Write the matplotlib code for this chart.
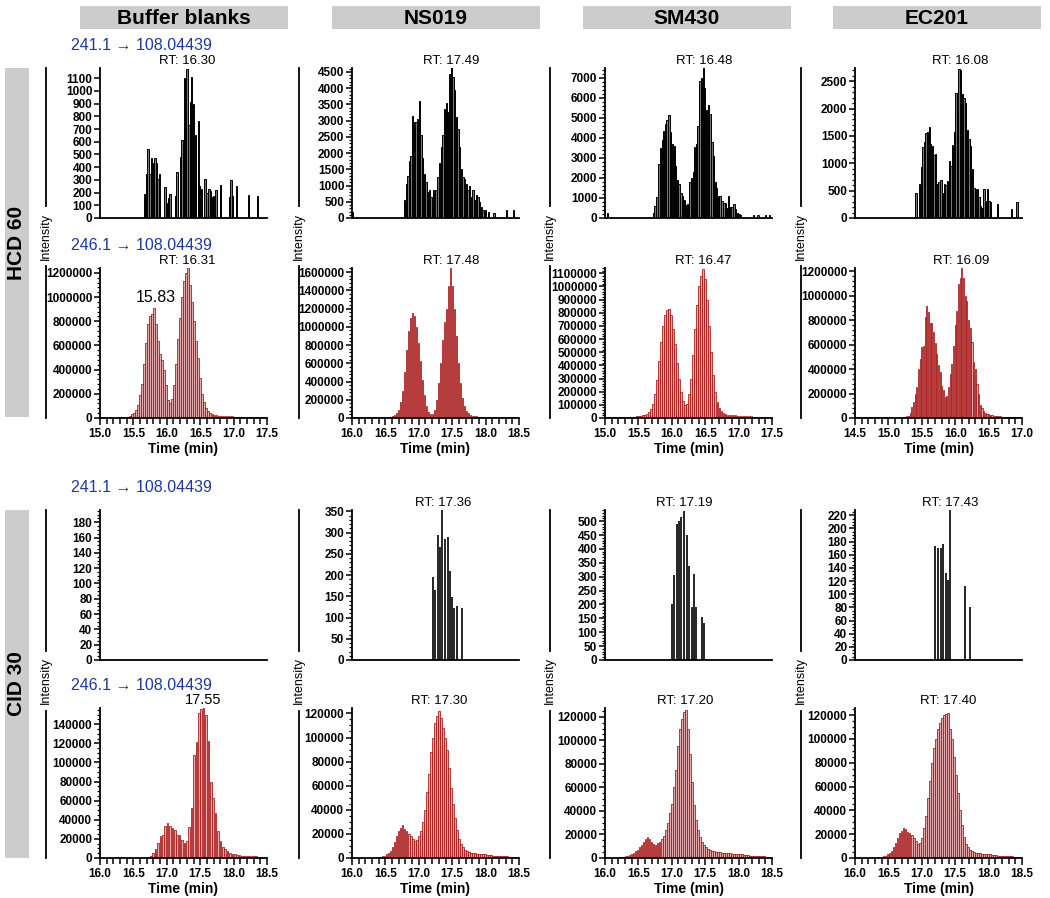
import matplotlib
matplotlib.use("Agg")
import matplotlib.pyplot as plt
import numpy as np
from matplotlib.ticker import MultipleLocator, AutoMinorLocator, FormatStrFormatter, NullLocator
from matplotlib.patches import Rectangle
from matplotlib.lines import Line2D

plt.rcParams['font.family'] = ['Liberation Sans Narrow', 'Liberation Sans', 'DejaVu Sans']

columns = ["Buffer blanks", "NS019", "SM430", "EC201"]
rows = ["HCD 60", "CID 30"]
trans_241 = "241.1 \u2192 108.04439"
trans_246 = "246.1 \u2192 108.04439"

# x ranges (min)
hcd_xlim = [(15.0, 17.5), (16.0, 18.5), (15.0, 17.5), (14.5, 17.0)]
cid_xlim = [(16.0, 18.5), (16.0, 18.5), (16.0, 18.5), (16.0, 18.5)]

# ---- HCD 60, 241.1 -> 108.04439 (black bars): times, intensities
buf_hcd241_t = [15.665, 15.70, 15.72, 15.75, 15.775, 15.805, 15.825, 15.845, 15.87, 15.895,
                15.975, 15.995, 16.025, 16.05, 16.13, 16.155, 16.21, 16.23, 16.26, 16.28,
                16.30, 16.33, 16.35, 16.37, 16.40, 16.43, 16.47, 16.49, 16.52, 16.57,
                16.60, 16.63, 16.65, 16.68, 16.70, 16.735, 16.80, 16.94, 16.96, 16.985,
                17.04, 17.225, 17.36]
buf_hcd241_v = [190, 350, 540, 350, 470, 430, 470, 430, 310, 350,
                240, 120, 160, 185, 170, 360, 480, 610, 1100, 870,
                1170, 730, 910, 1110, 900, 650, 760, 250, 225, 310,
                200, 230, 210, 165, 170, 220, 260, 165, 300, 175,
                250, 180, 175]

ns_hcd241_t = [16.01, 16.79, 16.815, 16.84, 16.865, 16.885, 16.91, 16.935, 16.96, 16.985,
               17.01, 17.035, 17.06, 17.085, 17.11, 17.135, 17.16, 17.185, 17.21,
               17.225, 17.255, 17.285, 17.31, 17.335, 17.36, 17.385, 17.41, 17.43, 17.46,
               17.485, 17.51, 17.535, 17.56, 17.585, 17.61, 17.635, 17.66, 17.685, 17.71,
               17.735, 17.76, 17.785, 17.81, 17.835, 17.86, 17.885, 17.91, 17.935, 17.96,
               17.995, 18.045, 18.125, 18.315, 18.42]
ns_hcd241_v = [200, 550, 1050, 1300, 1750, 1900, 3150, 2950, 2950, 3050,
               3600, 2550, 1850, 1350, 1100, 800, 850, 650, 350,
               850, 850, 1250, 1700, 2200, 2550, 3350, 3550, 3250, 4450,
               4650, 4350, 3950, 3100, 2750, 2200, 1500, 1250, 1200, 1050,
               850, 1000, 650, 850, 550, 700, 650, 500, 350, 250,
               250, 200, 150, 250, 250]

sm_hcd241_t = [15.04, 15.73, 15.75, 15.78, 15.81, 15.83, 15.86, 15.88, 15.91, 15.93,
               15.96, 15.98, 16.01, 16.04, 16.06, 16.09, 16.11, 16.14, 16.16, 16.19,
               16.21, 16.24, 16.27, 16.29, 16.32, 16.34, 16.37, 16.39, 16.42, 16.44,
               16.47, 16.49, 16.52, 16.55, 16.57, 16.60, 16.62, 16.65, 16.67, 16.70,
               16.72, 16.75, 16.78, 16.80, 16.83, 16.85, 16.88, 16.90, 16.93, 16.95,
               16.98, 17.01, 17.03, 17.22, 17.29, 17.40, 17.46]
sm_hcd241_v = [250, 250, 600, 1050, 2700, 3500, 3900, 4350, 4700, 4900,
               5150, 4300, 3700, 3600, 2600, 1900, 1700, 1250, 1100, 900,
               650, 700, 1800, 2000, 2300, 3550, 3700, 4600, 6850, 7000,
               7500, 6500, 5400, 5650, 5200, 3800, 3100, 1800, 1500, 1100,
               1100, 850, 750, 750, 500, 1100, 550, 550, 700, 450,
               250, 200, 150, 150, 150, 150, 150]

ec_hcd241_t = [15.415, 15.465, 15.495, 15.52, 15.54, 15.565, 15.59, 15.615, 15.635, 15.66,
               15.685, 15.71, 15.735, 15.76, 15.785, 15.81, 15.835, 15.86, 15.885, 15.91,
               15.935, 15.96, 15.985, 16.01, 16.035, 16.055, 16.08, 16.105, 16.13, 16.155,
               16.18, 16.205, 16.23, 16.255, 16.28, 16.305, 16.33, 16.355, 16.38, 16.405,
               16.43, 16.455, 16.48, 16.505, 16.53, 16.63, 16.84, 16.925]
ec_hcd241_v = [450, 620, 930, 1300, 1380, 1560, 1580, 1660, 1350, 1320,
               1150, 1170, 620, 650, 690, 450, 630, 600, 680, 1050,
               950, 1330, 1580, 2280, 1930, 2720, 2700, 2270, 2200, 2100,
               1600, 1450, 1320, 900, 550, 530, 530, 380, 220, 190,
               530, 310, 530, 310, 300, 250, 160, 290]

# ---- HCD 60, 246.1 -> 108.04439 (red bars): first scan time, scan spacing, intensities (x1000)
buf_hcd246_t0, buf_hcd246_dt = 15.03, 0.03
buf_hcd246_v = [10, 8, 0, 0, 0, 0, 0, 0, 5, 6, 5, 6, 8, 10, 20, 30, 45, 70, 110, 190,
                280, 450, 620, 780, 840, 860, 910, 780, 640, 530, 480, 400, 270, 150, 120, 160,
                270, 450, 650, 830, 1000, 1130, 1200, 1240, 1100, 960, 800, 640, 500, 330,
                200, 130, 80, 55, 40, 30, 25, 22, 20, 18, 16, 15, 14, 14, 13, 13, 12, 12, 12,
                11, 11, 10, 10, 10, 9, 9, 9, 8, 8, 8, 8, 8]

ns_hcd246_t0, ns_hcd246_dt = 16.035, 0.03
ns_hcd246_v = [10, 8, 10, 8, 10, 8, 6, 8, 10, 8, 8, 6, 8, 10, 8, 8, 10, 12, 15, 20,
               30, 50, 90, 170, 300, 500, 750, 950, 1100, 1150,
               1120, 1000, 820, 620, 420, 250, 130, 70, 40, 45,
               90, 200, 380, 600, 850, 1050, 1200, 1450, 1640, 1450,
               1200, 900, 600, 380, 220, 130, 80, 50, 35, 25,
               20, 18, 16, 15, 14, 13, 12, 12, 11, 10,
               10, 10, 9, 9, 8, 8, 8, 7, 7, 7, 6, 6, 6]

sm_hcd246_t0, sm_hcd246_dt = 15.03, 0.03
sm_hcd246_v = [8, 6, 8, 5, 6, 8, 6, 5, 6, 8, 6, 8, 10, 8, 10, 12, 15, 18, 20, 25, 32,
               45, 70, 110, 180, 290, 430, 580, 700, 780, 820,
               830, 780, 680, 560, 420, 300, 200, 130, 100, 110,
               180, 300, 480, 680, 860, 1000, 1080, 1130, 1060, 900,
               700, 500, 330, 200, 120, 75, 50, 38,
               30, 26, 24, 22, 20, 19, 18, 17, 16, 15, 14, 13, 12, 12, 11, 10, 10, 9, 9, 8, 8, 7, 7]

ec_hcd246_t0, ec_hcd246_dt = 14.5, 0.025
ec_hcd246_v = [10, 8, 10, 8, 10, 8, 10, 8, 10, 8, 10, 8, 10, 8, 10, 8, 10, 8, 10, 8,
               0, 0, 0, 0, 0, 0, 0, 0,
               10, 0, 5, 15, 20, 40, 90, 130, 200, 250, 400, 480, 580, 590, 830, 920, 870, 780,
               780, 700, 610, 520, 430, 380, 260, 230, 170, 180, 250, 360, 440, 590, 760, 880,
               1100, 1150, 1230, 1150, 1000, 960, 800, 740, 620, 460, 400, 280, 200, 110, 80, 60,
               45, 35, 30, 25, 22, 20, 18, 16, 15, 14, 12, 11, 10, 10, 9, 8, 8, 8, 7, 7, 7, 6]

# ---- CID 30, 241.1 -> 108.04439 (sticks)
buf_cid241_t = []
buf_cid241_v = []
ns_cid241_t = [17.21, 17.24, 17.29, 17.31, 17.35, 17.39, 17.43, 17.46, 17.50, 17.53, 17.57, 17.65]
ns_cid241_v = [195, 165, 295, 265, 355, 285, 290, 210, 148, 122, 128, 123]
sm_cid241_t = [17.005, 17.035, 17.075, 17.11, 17.145, 17.185, 17.225, 17.26, 17.30, 17.33,
               17.365, 17.445, 17.48]
sm_cid241_v = [200, 305, 490, 500, 515, 535, 450, 340, 190, 310, 190, 155, 135]
ec_cid241_t = [17.20, 17.245, 17.28, 17.315, 17.355, 17.385, 17.425, 17.65, 17.725]
ec_cid241_v = [173, 170, 170, 177, 132, 122, 228, 112, 80]

# ---- CID 30, 246.1 -> 108.04439 (red bars, x1000)
buf_cid246_t0, buf_cid246_dt = 16.725, 0.0359
buf_cid246_v = [1, 2, 5, 9, 16, 23, 24, 33, 37, 34, 31, 29, 24, 24, 19, 16, 18, 32, 52, 108,
                121, 152, 156, 157, 150, 122, 80, 63, 47, 28, 18, 12, 9, 7, 5, 4, 4, 3, 3, 2.5,
                2.5, 2, 2, 2, 2, 2, 1.5, 1.5, 1.5, 1.5]

ns_cid246_t0, ns_cid246_dt = 16.37, 0.03
ns_cid246_v = [1, 1, 1, 2, 2, 3, 4, 6, 9, 13, 18, 22, 25, 27, 24, 22, 20, 18, 16, 14,
               15, 18, 22, 30, 40, 55, 70, 88, 100, 112, 118, 122, 116, 108, 100, 90, 75, 58, 45, 33,
               23, 16, 12, 9, 7, 6, 5, 4.5, 4, 4, 3.5, 3.5, 3, 3, 3, 2.5, 2.5, 2.5, 2, 2,
               2, 2, 1.5, 1.5, 1.5, 1.5, 1, 1, 1, 1, 1]

sm_cid246_t0, sm_cid246_dt = 16.25, 0.03
sm_cid246_v = [1, 1, 1.5, 2, 2.5, 3, 4, 6, 7, 9, 11, 14, 16, 18, 16, 14, 12, 11, 13, 14,
               16, 19, 24, 30, 38, 46, 60, 75, 95, 110, 118, 124, 126, 110, 88, 65, 45, 32, 24, 18,
               14, 11, 9, 8, 7, 6, 6, 5.5, 5, 5, 4.5, 4.5, 4, 4, 4, 3.5, 3.5, 3.5, 3, 3,
               3, 2.5, 2.5, 2.5, 2, 2, 2, 2, 1.5, 1.5, 1.5, 1.5, 1, 1, 1]

ec_cid246_t0, ec_cid246_dt = 16.37, 0.03
ec_cid246_v = [1, 1, 2, 2, 3, 4, 6, 9, 13, 17, 21, 23, 25, 24, 22, 21, 19, 17, 14, 12,
               13, 17, 25, 35, 50, 65, 80, 92, 100, 108, 113, 118, 120, 121, 122, 108, 100, 85, 70, 55,
               40, 28, 18, 12, 9, 7, 6, 5, 4.5, 4, 4, 3.5, 3.5, 3, 3, 3, 2.5, 2.5, 2.5, 2,
               2, 2, 2, 1.5, 1.5, 1.5, 1.5, 1, 1, 1, 1]

# RT labels (None = no label)
hcd241_rt = [16.30, 17.49, 16.48, 16.08]
hcd246_rt = [16.31, 17.48, 16.47, 16.09]
cid241_rt = [None, 17.36, 17.19, 17.43]
cid246_rt = [None, 17.30, 17.20, 17.40]
extra_peak = (15.83, 910000)     # buffer blank HCD first peak
buf_cid_peak = 17.55             # buffer blank CID peak (no "RT:")

# axis limits / ticks
hcd241_ymax = [1180, 4620, 7500, 2740]
hcd241_step = [100, 500, 1000, 500]
hcd246_ymax = [1240000, 1645000, 1140000, 1228000]
hcd246_step = [200000, 200000, 100000, 200000]
cid241_ymax = [196, 353, 540, 228]
cid241_step = [20, 50, 50, 20]
cid246_ymax = [157000, 124500, 127500, 126000]
cid246_step = [20000, 20000, 20000, 20000]

hcd241 = [(buf_hcd241_t, buf_hcd241_v), (ns_hcd241_t, ns_hcd241_v),
          (sm_hcd241_t, sm_hcd241_v), (ec_hcd241_t, ec_hcd241_v)]
hcd246 = [(buf_hcd246_t0, buf_hcd246_dt, buf_hcd246_v), (ns_hcd246_t0, ns_hcd246_dt, ns_hcd246_v),
          (sm_hcd246_t0, sm_hcd246_dt, sm_hcd246_v), (ec_hcd246_t0, ec_hcd246_dt, ec_hcd246_v)]
cid241 = [(buf_cid241_t, buf_cid241_v), (ns_cid241_t, ns_cid241_v),
          (sm_cid241_t, sm_cid241_v), (ec_cid241_t, ec_cid241_v)]
cid246 = [(buf_cid246_t0, buf_cid246_dt, buf_cid246_v), (ns_cid246_t0, ns_cid246_dt, ns_cid246_v),
          (sm_cid246_t0, sm_cid246_dt, sm_cid246_v), (ec_cid246_t0, ec_cid246_dt, ec_cid246_v)]

W, H = 1050, 898
fig = plt.figure(figsize=(W / 100, H / 100), dpi=100)

BLUE = '#1b3a9e'
RED_EDGE = '#a50f0f'
RED_FILL = '#e6aaaa'

col_left = [100, 352, 605, 855]
col_w = 167
row_top = [68, 268, 510, 708]
row_h = 150
ylab_x = [46, 299, 550, 801]


def add_ax(c, r):
    x0 = col_left[c] / W
    y0 = 1 - (row_top[r] + row_h) / H
    return fig.add_axes([x0, y0, col_w / W, row_h / H])


def style(ax, xlim, ymax, step, minor_n, show_x):
    ax.set_xlim(*xlim)
    ax.set_ylim(0, ymax)
    for s in ['top', 'right']:
        ax.spines[s].set_visible(False)
    for s in ['left', 'bottom']:
        ax.spines[s].set_linewidth(1.3)
    ax.yaxis.set_major_locator(MultipleLocator(step))
    if minor_n > 1:
        ax.yaxis.set_minor_locator(AutoMinorLocator(minor_n))
    ax.yaxis.set_major_formatter(FormatStrFormatter('%d'))
    ax.tick_params(axis='y', which='major', length=4, width=1.1, labelsize=8.5, pad=1.5)
    ax.tick_params(axis='y', which='minor', length=2.5, width=0.9)
    for lab in ax.get_yticklabels():
        lab.set_fontweight('bold')
    if show_x:
        ax.xaxis.set_major_locator(MultipleLocator(0.5))
        ax.xaxis.set_minor_locator(MultipleLocator(0.1))
        ax.xaxis.set_major_formatter(FormatStrFormatter('%.1f'))
        ax.tick_params(axis='x', which='major', length=5, width=1.1, labelsize=8.5, pad=2)
        ax.tick_params(axis='x', which='minor', length=4, width=1.1)
        for lab in ax.get_xticklabels():
            lab.set_fontweight('bold')
        ax.set_xlabel('Time (min)', fontsize=10, fontweight='bold', labelpad=2)
    else:
        ax.xaxis.set_major_locator(NullLocator())
        ax.xaxis.set_minor_locator(NullLocator())


def rt_label(ax, text, x, size=9.5):
    ax.annotate(text, xy=(x, 1.0), xycoords=('data', 'axes fraction'),
                xytext=(0, 1), textcoords='offset points',
                ha='center', va='bottom', fontsize=size, color='black')


def red_bars(ax, t0, dt, v):
    t = t0 + dt * np.arange(len(v))
    ax.bar(t, np.array(v) * 1000, width=dt * 0.72, color=RED_FILL,
           edgecolor=RED_EDGE, linewidth=0.55)


minors241 = [1, 5, 5, 5]
minors246 = [5, 5, 5, 5]
minorsc241 = [4, 5, 5, 4]
minorsc246 = [4, 4, 4, 4]

for c in range(4):
    # HCD 241
    ax = add_ax(c, 0)
    t, v = hcd241[c]
    ax.bar(t, v, width=0.02, color='#777777', edgecolor='black', linewidth=0.7)
    style(ax, hcd_xlim[c], hcd241_ymax[c], hcd241_step[c], minors241[c], False)
    rt_label(ax, 'RT: %.2f' % hcd241_rt[c], hcd241_rt[c])

    # HCD 246
    ax = add_ax(c, 1)
    red_bars(ax, *hcd246[c])
    style(ax, hcd_xlim[c], hcd246_ymax[c], hcd246_step[c], minors246[c], True)
    rt_label(ax, 'RT: %.2f' % hcd246_rt[c], hcd246_rt[c])
    if c == 0:
        ax.annotate('%.2f' % extra_peak[0], xy=extra_peak, xytext=(0, 2),
                    textcoords='offset points', ha='center', va='bottom', fontsize=11.5)

    # CID 241
    ax = add_ax(c, 2)
    t, v = cid241[c]
    if len(t):
        ax.vlines(t, 0, v, color='black', linewidth=1.2)
    style(ax, cid_xlim[c], cid241_ymax[c], cid241_step[c], minorsc241[c], False)
    if cid241_rt[c] is not None:
        rt_label(ax, 'RT: %.2f' % cid241_rt[c], cid241_rt[c])

    # CID 246
    ax = add_ax(c, 3)
    red_bars(ax, *cid246[c])
    style(ax, cid_xlim[c], cid246_ymax[c], cid246_step[c], minorsc246[c], True)
    if cid246_rt[c] is not None:
        rt_label(ax, 'RT: %.2f' % cid246_rt[c], cid246_rt[c])
    else:
        rt_label(ax, '%.2f' % buf_cid_peak, buf_cid_peak, size=10.5)

    # column header
    hx = [80, 332, 583, 833][c]
    fig.patches.append(Rectangle((hx / W, 1 - 29 / H), 208 / W, 23 / H,
                                 transform=fig.transFigure, facecolor='#cccccc', edgecolor='none'))
    fig.text((hx + 104) / W, 1 - 18 / H, columns[c], ha='center', va='center',
             fontsize=15, fontweight='bold')

    # "Intensity" bracket labels
    for top, gap_c, bot in [(68, 236, 418), (510, 681, 858)]:
        lx = ylab_x[c] / W
        fig.add_artist(Line2D([lx, lx], [1 - top / H, 1 - (gap_c - 30) / H],
                              transform=fig.transFigure, color='black', linewidth=1.3))
        fig.add_artist(Line2D([lx, lx], [1 - (gap_c + 30) / H, 1 - bot / H],
                              transform=fig.transFigure, color='black', linewidth=1.3))
        fig.text(lx, 1 - gap_c / H, 'Intensity', rotation=90, ha='center', va='center', fontsize=9)

# transition labels (first column only)
for yc, lab in [(45, trans_241), (245, trans_246), (487, trans_241), (685, trans_246)]:
    fig.text(141 / W, 1 - yc / H, lab, ha='center', va='center', fontsize=11.5, color=BLUE)

# row headers
for (top, bot), lab in zip([(68, 417), (510, 858)], rows):
    fig.patches.append(Rectangle((5 / W, 1 - bot / H), 24 / W, (bot - top) / H,
                                 transform=fig.transFigure, facecolor='#cccccc', edgecolor='none'))
    fig.text(17 / W, 1 - (top + bot) / 2 / H, lab, rotation=90, ha='center', va='center',
             fontsize=15, fontweight='bold')

fig.savefig('out.png', dpi=100)
